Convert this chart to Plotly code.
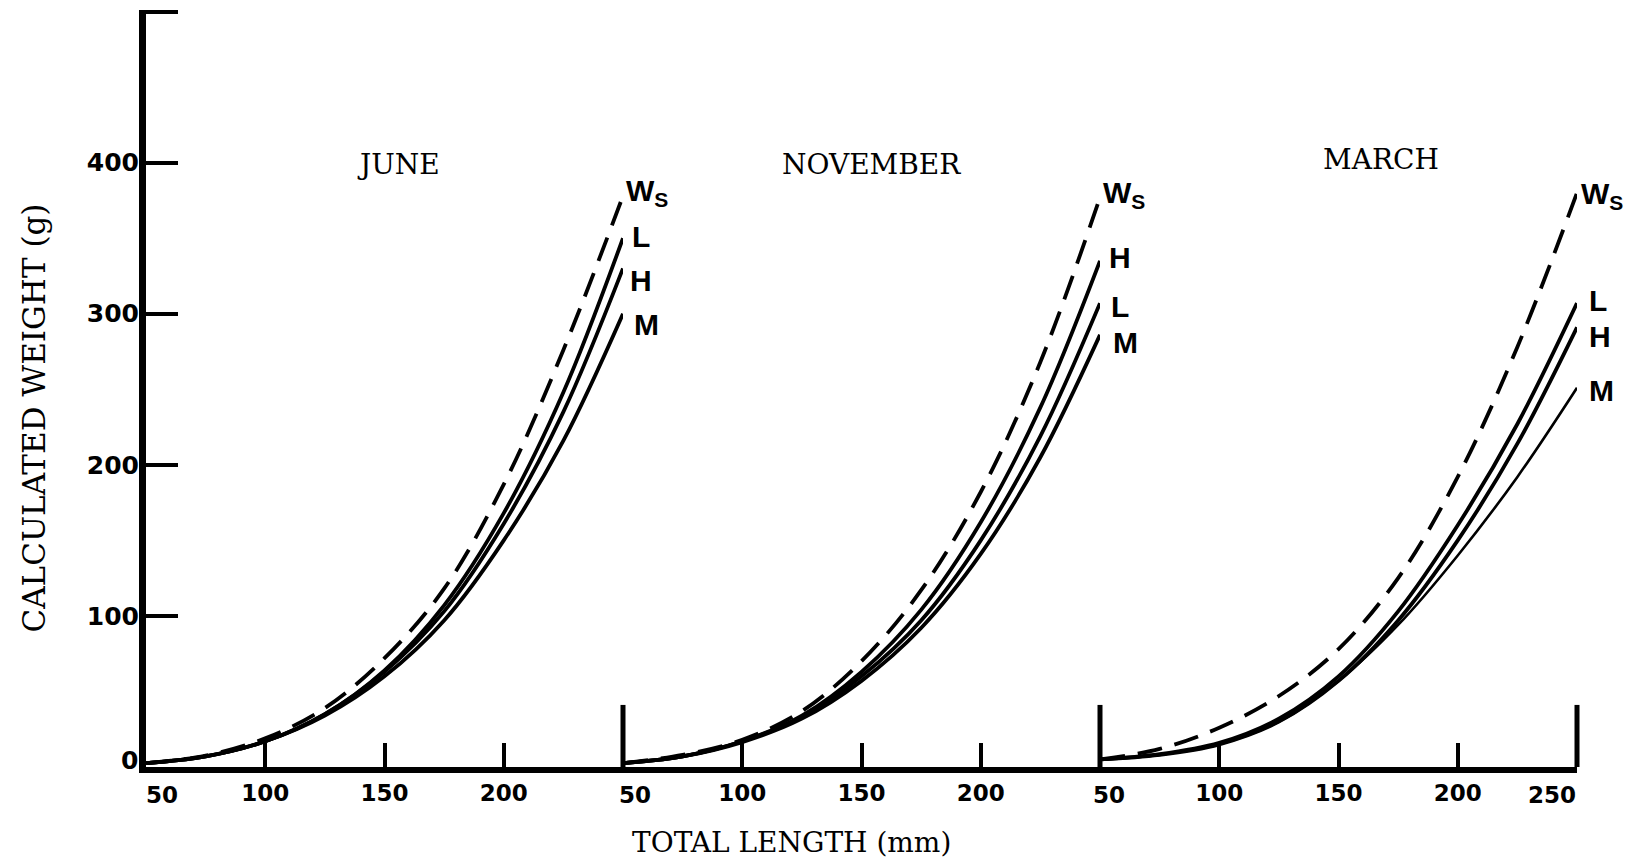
import plotly.graph_objects as go

# Total length (mm) sampled along each curve
lengths = [50, 75, 100, 125, 150, 175, 200, 225, 250]

# Calculated weight (g) per month and curve
june_ws = [2.5, 7.5, 19, 39, 72, 118, 187, 276, 378]
june_l = [2.5, 7, 17, 35, 64, 107, 168, 248, 350]
june_h = [2.5, 7, 17, 35, 63, 103, 161, 235, 330]
june_m = [2.5, 7, 17, 34, 60, 97, 150, 216, 300]

nov_ws = [2.5, 8, 18, 37, 70, 117, 182, 268, 377]
nov_h = [2.5, 7, 17, 34, 63, 104, 162, 238, 335]
nov_l = [2.5, 7, 17, 33, 60, 97, 150, 219, 307]
nov_m = [2.5, 7, 16.5, 32, 57, 92, 141, 205, 286]

mar_ws = [5, 12, 26, 47, 78, 125, 192, 278, 380]
mar_l = [5, 8.5, 16, 32, 60, 103, 160, 227, 307]
mar_h = [5, 8, 15, 30, 57, 97, 150, 214, 291]
mar_m = [5, 8, 15, 30, 57, 94, 140, 192, 251]

months = ["JUNE", "NOVEMBER", "MARCH"]
curve_names = ["Ws", "L", "H", "M"]
y_ticks = [0, 100, 200, 300, 400, 500]
y_tick_text = ["", "100", "200", "300", "400", ""]
x_ticks = [100, 150, 200]

panels = [
    {"Ws": june_ws, "L": june_l, "H": june_h, "M": june_m},
    {"Ws": nov_ws, "L": nov_l, "H": nov_h, "M": nov_m},
    {"Ws": mar_ws, "L": mar_l, "H": mar_h, "M": mar_m},
]

# ---- styling ----
INK = "black"
SERIF = "DejaVu Serif, Liberation Serif, serif"
SANS = "DejaVu Sans, Liberation Sans, sans-serif"
TAG_FONT = dict(family="Liberation Sans, Arial, sans-serif", size=30, color=INK, weight="bold")
TICK_FONT = dict(family=SANS, size=23, color=INK, weight="bold")
YTICK_FONT = dict(family=SANS, size=25, color=INK, weight="bold")

# tag placement (y value, x shift in px) at the right end of each panel
tag_pos = [
    {"Ws": (380, 1), "L": (351, 7), "H": (322, 5), "M": (293, 9)},
    {"Ws": (379, 1), "H": (337, 7), "L": (305, 9), "M": (281, 11)},
    {"Ws": (378, 2), "L": (309, 10), "H": (285, 10), "M": (249, 10)},
]
title_pos = [(156, 399), (154, 399), (168, 402)]

fig = go.Figure()
xrefs = ["x", "x2", "x3"]

for p, (data, xr) in enumerate(zip(panels, xrefs)):
    for name in curve_names:
        width = 3.8
        if p == 2 and name == "M":
            width = 2.6
        fig.add_trace(go.Scatter(
            x=lengths, y=data[name], xaxis=xr, yaxis="y",
            mode="lines", line_shape="spline",
            line=dict(color=INK, width=width,
                      dash="25px,13px" if name == "Ws" else "solid"),
            showlegend=False, hoverinfo="skip",
        ))

annotations = []
shapes = []
for p, xr in enumerate(xrefs):
    # month heading
    tx, ty = title_pos[p]
    annotations.append(dict(x=tx, y=ty, xref=xr, yref="y", text=months[p],
                            showarrow=False, font=dict(family=SERIF, size=28, color=INK)))
    # curve tags
    for name, (yv, dx) in tag_pos[p].items():
        txt = "W<sub>S</sub>" if name == "Ws" else name
        annotations.append(dict(x=250, y=yv, xref=xr, yref="y", text=txt,
                                showarrow=False, xanchor="left", yanchor="middle",
                                xshift=dx, font=TAG_FONT))
    # tall separator tick at the right end of each panel
    xp = (p + 1) / 3
    shapes.append(dict(type="line", xref="paper", yref="paper", x0=xp, x1=xp,
                       y0=0, y1=0.082, line=dict(color=INK, width=5)))

# "50" at the start of each panel and "250" at the end of the last
for xr, dx in zip(xrefs, [16, 12, 9]):
    annotations.append(dict(x=50, y=0, xref=xr, yref="y", text="50", showarrow=False,
                            xanchor="center", yanchor="middle", xshift=dx, yshift=-28,
                            font=TICK_FONT))
annotations.append(dict(x=250, y=0, xref="x3", yref="y", text="250", showarrow=False,
                        xanchor="center", yanchor="middle", xshift=-25, yshift=-28,
                        font=TICK_FONT))
# zero on the weight axis sits a little above the baseline
annotations.append(dict(x=50, y=0, xref="x", yref="y", text="0", showarrow=False,
                        xanchor="right", yanchor="middle", xshift=-6, yshift=7,
                        font=YTICK_FONT))

# axis titles
annotations.append(dict(x=-0.0923, y=0.4616, xref="paper", yref="paper",
                        text="CALCULATED WEIGHT (g)", textangle=-90, showarrow=False,
                        font=dict(family=SERIF, size=31, color=INK)))
annotations.append(dict(x=0.4514, y=-0.124, xref="paper", yref="paper",
                        text="TOTAL LENGTH (mm)", showarrow=False,
                        font=dict(family=SERIF, size=28, color=INK)))

xaxis_common = dict(
    range=[50, 250], showgrid=False, zeroline=False,
    showline=True, linewidth=6, linecolor=INK,
    ticks="inside", tickvals=x_ticks, ticklen=24, tickwidth=4, tickcolor=INK,
    tickfont=TICK_FONT,
    anchor="y", fixedrange=True,
)

fig.update_layout(
    width=1625, height=864,
    margin=dict(l=146, r=48, t=10, b=97),
    paper_bgcolor="white", plot_bgcolor="white",
    xaxis=dict(domain=[0, 1 / 3], **xaxis_common),
    xaxis2=dict(domain=[1 / 3, 2 / 3], **xaxis_common),
    xaxis3=dict(domain=[2 / 3, 1], **xaxis_common),
    yaxis=dict(
        range=[0, 501], anchor="x", showgrid=False, zeroline=False,
        showline=True, linewidth=7, linecolor=INK,
        ticks="inside", tickvals=y_ticks, ticktext=y_tick_text,
        ticklen=32, tickwidth=3.5, tickcolor=INK,
        tickfont=YTICK_FONT, ticklabelstandoff=-5,
        fixedrange=True,
    ),
    annotations=annotations,
    shapes=shapes,
    showlegend=False,
)

fig.write_html("out.html")
